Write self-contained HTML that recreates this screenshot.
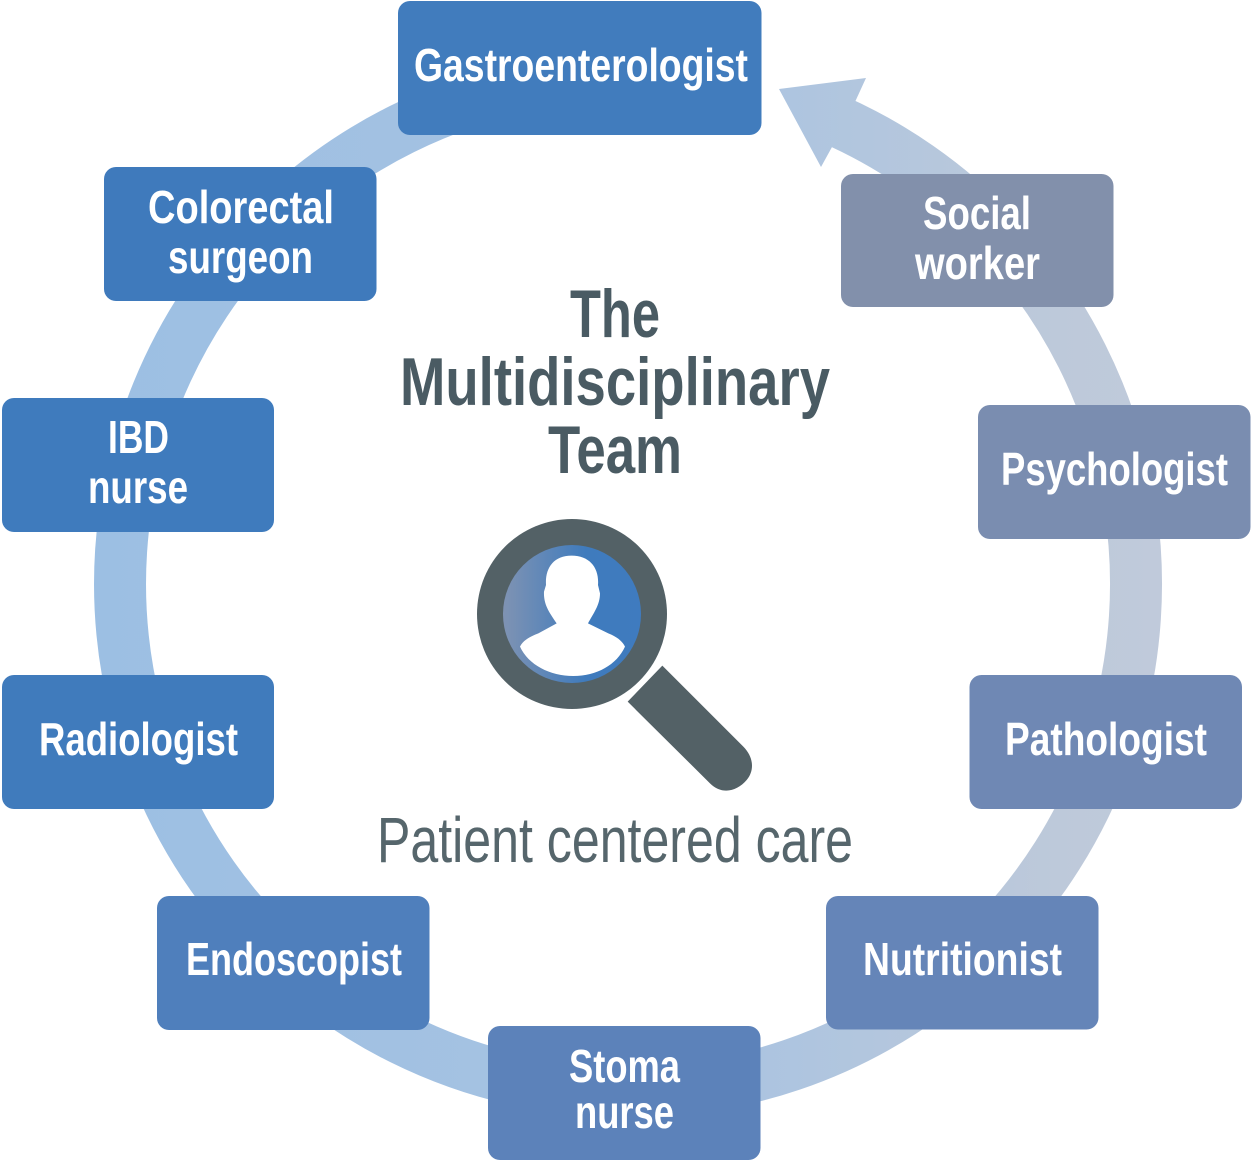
<!DOCTYPE html>
<html lang="en"><head><meta charset="utf-8"><title>The Multidisciplinary Team</title>
<style>html,body{margin:0;padding:0;background:#fff}svg{display:block}
text{font-family:"Liberation Sans",sans-serif}
.b{font-weight:700;font-size:46px;fill:#fff}
.t{font-weight:700;font-size:68px;fill:#4a5b63}
.p{font-size:64px;fill:#56666c}</style></head>
<body>
<svg width="1252" height="1161" viewBox="0 0 1252 1161" xmlns="http://www.w3.org/2000/svg">
<defs>
<linearGradient id="r" gradientUnits="userSpaceOnUse" x1="94" y1="0" x2="1162" y2="0">
<stop offset="0" stop-color="#9cbfe3"/><stop offset=".55" stop-color="#a8c3e2"/><stop offset=".72" stop-color="#b2c6de"/><stop offset=".9" stop-color="#bdc9da"/><stop offset="1" stop-color="#c0cadb"/>
</linearGradient>
<linearGradient id="l" gradientUnits="userSpaceOnUse" x1="503" y1="0" x2="641" y2="0">
<stop offset="0" stop-color="#7f93b3"/><stop offset=".6" stop-color="#3f7bbd"/><stop offset="1" stop-color="#3f7bbf"/>
</linearGradient>
</defs>
<path d="M820 115A508 508 0 1 1 627 77" fill="none" stroke="url(#r)" stroke-width="52" transform="translate(.8 -1)"/>
<polygon points="779,89 866,78 855,102 832,147 821,167" fill="url(#r)"/>
<g>
<rect x="398" y="1" width="363.5" height="134" rx="12" fill="#417cbd"/>
<rect x="104" y="167" width="272.5" height="134" rx="12" fill="#3f7abc"/>
<rect x="2" y="398" width="272" height="134" rx="12" fill="#3f7bbd"/>
<rect x="2" y="675" width="272" height="134" rx="12" fill="#407bbc"/>
<rect x="157" y="896" width="272.5" height="134" rx="12" fill="#4f7fbc"/>
<rect x="488" y="1026" width="272.5" height="134" rx="12" fill="#5c82ba"/>
<rect x="826" y="896" width="272.5" height="133.5" rx="12" fill="#6585b8"/>
<rect x="969.5" y="675" width="272.5" height="134" rx="12" fill="#6f88b4"/>
<rect x="978" y="405" width="272.5" height="134" rx="12" fill="#7a8db0"/>
<rect x="841" y="174" width="272.5" height="133" rx="12" fill="#8290ab"/>
</g>
<g class="labels">
<text class="b" x="414" y="81" textLength="334" lengthAdjust="spacingAndGlyphs">Gastroenterologist</text>
<text class="b" x="148" y="223" textLength="186" lengthAdjust="spacingAndGlyphs">Colorectal</text>
<text class="b" x="168" y="273" textLength="145" lengthAdjust="spacingAndGlyphs">surgeon</text>
<text class="b" x="108" y="453" textLength="61" lengthAdjust="spacingAndGlyphs">IBD</text>
<text class="b" x="88" y="503" textLength="100" lengthAdjust="spacingAndGlyphs">nurse</text>
<text class="b" x="39" y="755" textLength="199" lengthAdjust="spacingAndGlyphs">Radiologist</text>
<text class="b" x="186" y="975" textLength="216" lengthAdjust="spacingAndGlyphs">Endoscopist</text>
<text class="b" x="569" y="1082" textLength="111" lengthAdjust="spacingAndGlyphs">Stoma</text>
<text class="b" x="575" y="1128" textLength="99" lengthAdjust="spacingAndGlyphs">nurse</text>
<text class="b" x="863" y="975" textLength="199" lengthAdjust="spacingAndGlyphs">Nutritionist</text>
<text class="b" x="1005" y="755" textLength="202" lengthAdjust="spacingAndGlyphs">Pathologist</text>
<text class="b" x="1001" y="485" textLength="227" lengthAdjust="spacingAndGlyphs">Psychologist</text>
<text class="b" x="923" y="229" textLength="108" lengthAdjust="spacingAndGlyphs">Social</text>
<text class="b" x="915" y="279" textLength="125" lengthAdjust="spacingAndGlyphs">worker</text>
<text class="t" x="570" y="337" textLength="90" lengthAdjust="spacingAndGlyphs">The</text>
<text class="t" x="400" y="405" textLength="430" lengthAdjust="spacingAndGlyphs">Multidisciplinary</text>
<text class="t" x="548" y="473" textLength="134" lengthAdjust="spacingAndGlyphs">Team</text>
<text class="p" x="377" y="862" textLength="476" lengthAdjust="spacingAndGlyphs">Patient centered care</text>
</g>
<circle cx="572" cy="614" r="95" fill="#536166"/>
<circle cx="572" cy="614" r="69" fill="url(#l)"/>
<g transform="translate(460 505) scale(.33333)">
<path d="M180 425C190 405 210 395 235 385L290 355C270 325 250 300 252 260L258 240C255 190 280 152 335 152C390 152 418 190 414 240L420 265C420 300 400 325 384 355L445 385C470 395 487 408 495 425C470 480 410 513 340 513C270 513 205 480 180 425Z" fill="#fff"/>
<path d="M607 482L503 590L750 835C785 870 830 860 860 825C885 795 880 755 850 725Z" fill="#536166"/>
</g>
</svg>
</body></html>
